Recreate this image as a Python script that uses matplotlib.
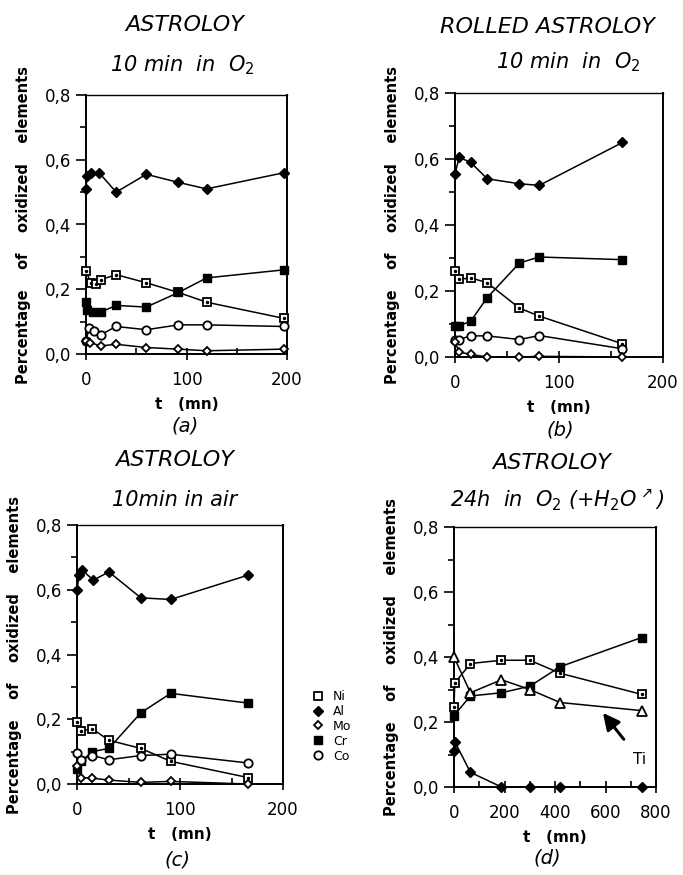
import matplotlib
matplotlib.use("Agg")
import matplotlib.pyplot as plt
from matplotlib.ticker import MultipleLocator, FuncFormatter
from matplotlib.lines import Line2D

plt.rcParams['font.family'] = ['DejaVu Sans']
plt.rcParams['mathtext.fontset'] = 'dejavusans'

W, H = 683, 875

# ---- data ----
# (a) ASTROLOY 10 min in O2
t_a_al = [0, 1, 5, 13, 30, 60, 92, 120, 197]
al_a = [0.51, 0.55, 0.56, 0.56, 0.50, 0.555, 0.53, 0.51, 0.56]
t_a_ni = [0, 5, 10, 15, 30, 60, 92, 120, 197]
ni_a = [0.255, 0.22, 0.215, 0.23, 0.245, 0.22, 0.19, 0.16, 0.11]
t_a_cr = [0, 1, 7, 15, 30, 60, 92, 120, 197]
cr_a = [0.16, 0.135, 0.13, 0.13, 0.15, 0.145, 0.19, 0.235, 0.26]
t_a_co = [0, 3, 8, 15, 30, 60, 92, 120, 197]
co_a = [0.04, 0.08, 0.07, 0.06, 0.085, 0.075, 0.09, 0.09, 0.085]
t_a_mo = [0, 4, 15, 30, 60, 92, 120, 197]
mo_a = [0.04, 0.035, 0.025, 0.03, 0.02, 0.015, 0.01, 0.015]

# (b) ROLLED ASTROLOY 10 min in O2
t_b = [0, 4, 15, 31, 62, 81, 161]
al_b = [0.555, 0.605, 0.59, 0.54, 0.525, 0.52, 0.65]
ni_b = [0.26, 0.235, 0.24, 0.225, 0.148, 0.124, 0.04]
cr_b = [0.095, 0.095, 0.108, 0.18, 0.285, 0.303, 0.295]
co_b = [0.05, 0.053, 0.064, 0.064, 0.053, 0.065, 0.025]
mo_b = [0.045, 0.015, 0.008, 0.0, 0.0, 0.002, 0.0]

# (c) ASTROLOY 10min in air
t_c_al = [0, 2, 5, 16, 31, 62, 91, 166]
al_c = [0.60, 0.645, 0.66, 0.63, 0.655, 0.575, 0.57, 0.645]
t_c = [0, 4, 15, 31, 62, 91, 166]
ni_c = [0.19, 0.165, 0.17, 0.135, 0.11, 0.07, 0.02]
cr_c = [0.045, 0.07, 0.10, 0.11, 0.22, 0.28, 0.25]
co_c = [0.095, 0.075, 0.088, 0.075, 0.088, 0.092, 0.065]
mo_c = [0.055, 0.02, 0.018, 0.012, 0.005, 0.008, 0.0]

# (d) ASTROLOY 24h in O2 (+H2O)
t_d_ni = [0, 3, 65, 188, 300, 420, 743]
ni_d = [0.245, 0.32, 0.38, 0.39, 0.39, 0.35, 0.285]
t_d = [0, 65, 188, 300, 420, 743]
cr_d = [0.22, 0.28, 0.29, 0.31, 0.37, 0.46]
ti_d = [0.40, 0.29, 0.33, 0.30, 0.26, 0.235]
t_d_al = [0, 3, 65, 188, 300, 420, 743]
al_d = [0.11, 0.14, 0.045, 0.0, 0.0, 0.0, 0.0]

legend_names = ['Ni', 'Al', 'Mo', 'Cr', 'Co']

fig = plt.figure(figsize=(W / 100, H / 100), dpi=100)


def px_axes(left, right, top, bottom):
    return fig.add_axes([left / W, 1 - bottom / H, (right - left) / W, (bottom - top) / H])


def style(ax, xmax, xmaj, xmin):
    ax.set_xlim(0, xmax)
    ax.set_ylim(0, 0.8)
    ax.xaxis.set_major_locator(MultipleLocator(xmaj))
    ax.xaxis.set_minor_locator(MultipleLocator(xmin))
    ax.yaxis.set_major_locator(MultipleLocator(0.2))
    ax.yaxis.set_minor_locator(MultipleLocator(0.1))
    ax.yaxis.set_major_formatter(FuncFormatter(lambda v, p: f"{v:.1f}".replace('.', ',')))
    ax.tick_params(axis='y', which='major', direction='out', length=7, width=1.2, labelsize=12)
    ax.tick_params(axis='y', which='minor', direction='out', length=4, width=1.2)
    ax.tick_params(axis='x', which='major', direction='inout', length=8, width=1.2, labelsize=12, pad=8)
    ax.tick_params(axis='x', which='minor', direction='in', length=4, width=1.2)
    for s in ax.spines.values():
        s.set_linewidth(1.4)
    ax.spines['top'].set_linewidth(1.0)
    ax.set_xlabel("t   (mn)", fontsize=11, fontweight='bold', labelpad=6)
    ax.set_ylabel("Percentage    of    oxidized    elements", fontsize=10.5, fontweight='bold', labelpad=10)


kw = dict(color='black', lw=1.1, clip_on=False)


def ni(ax, t, v):
    ax.plot(t, v, marker='s', ms=6, mfc='white', mec='black', mew=1.3, zorder=4, **kw)
    ax.plot(t, v, ls='none', marker='.', ms=3, color='black', zorder=5, clip_on=False)


def al(ax, t, v):
    ax.plot(t, v, marker='D', ms=5.5, mfc='black', mec='black', zorder=4, **kw)


def mo(ax, t, v):
    ax.plot(t, v, marker='D', ms=4.5, mfc='white', mec='black', mew=1.3, zorder=4, **kw)


def cr(ax, t, v):
    ax.plot(t, v, marker='s', ms=6, mfc='black', mec='black', zorder=4, **kw)


def co(ax, t, v):
    ax.plot(t, v, marker='o', ms=6, mfc='white', mec='black', mew=1.3, zorder=4, **kw)


# (a)
ax_a = px_axes(86, 287, 95, 354)
style(ax_a, 200, 100, 50)
al(ax_a, t_a_al, al_a)
ni(ax_a, t_a_ni, ni_a)
cr(ax_a, t_a_cr, cr_a)
co(ax_a, t_a_co, co_a)
mo(ax_a, t_a_mo, mo_a)

# (b)
ax_b = px_axes(455, 663, 93, 357)
style(ax_b, 200, 100, 50)
al(ax_b, t_b, al_b)
ni(ax_b, t_b, ni_b)
cr(ax_b, t_b, cr_b)
co(ax_b, t_b, co_b)
mo(ax_b, t_b, mo_b)

# (c)
ax_c = px_axes(77, 283, 525, 784)
style(ax_c, 200, 100, 50)
al(ax_c, t_c_al, al_c)
ni(ax_c, t_c, ni_c)
cr(ax_c, t_c, cr_c)
co(ax_c, t_c, co_c)
mo(ax_c, t_c, mo_c)

# (d)
ax_d = px_axes(454, 656, 527, 787)
style(ax_d, 800, 200, 100)
ni(ax_d, t_d_ni, ni_d)
cr(ax_d, t_d, cr_d)
ax_d.plot(t_d, ti_d, marker='^', ms=6.5, mfc='white', mec='black', mew=1.3, zorder=4, **kw)
al(ax_d, t_d_al, al_d)
ax_d.annotate("Ti", xy=(590, 0.228), xytext=(735, 0.085), fontsize=11, ha='center', va='center',
              arrowprops=dict(arrowstyle='-|>,head_length=0.9,head_width=0.45', lw=2.2,
                              color='black', shrinkA=9, shrinkB=0))

# titles
tkw = dict(ha='center', va='center', style='italic')
fig.text(185 / W, 1 - 25 / H, "ASTROLOY", fontsize=16, **tkw)
fig.text(182 / W, 1 - 65 / H, r"10 min  in  $\mathit{O_2}$", fontsize=15, **tkw)
fig.text(547 / W, 1 - 27 / H, "ROLLED ASTROLOY", fontsize=16, **tkw)
fig.text(568 / W, 1 - 62 / H, r"10 min  in  $\mathit{O_2}$", fontsize=15, **tkw)
fig.text(175 / W, 1 - 460 / H, "ASTROLOY", fontsize=16, **tkw)
fig.text(175 / W, 1 - 500 / H, "10min in air", fontsize=15, **tkw)
fig.text(552 / W, 1 - 463 / H, "ASTROLOY", fontsize=16, **tkw)
fig.text(557 / W, 1 - 500 / H, r"24h  in  $\mathit{O_2}$ (+$\mathit{H_2O}^{\nearrow}$)", fontsize=15, **tkw)

# panel letters
for x, y, s in [(185, 426, "(a)"), (560, 430, "(b)"), (178, 860, "(c)"), (547, 858, "(d)")]:
    fig.text(x / W, 1 - y / H, s, fontsize=14, **tkw)

# legend
handles = [
    Line2D([], [], ls='none', marker='s', ms=6, mfc='white', mec='black', mew=1.3),
    Line2D([], [], ls='none', marker='D', ms=5.5, mfc='black', mec='black'),
    Line2D([], [], ls='none', marker='D', ms=4.5, mfc='white', mec='black', mew=1.3),
    Line2D([], [], ls='none', marker='s', ms=6, mfc='black', mec='black'),
    Line2D([], [], ls='none', marker='o', ms=6, mfc='white', mec='black', mew=1.3),
]
fig.legend(handles, legend_names, loc='upper left', bbox_to_anchor=(313 / W, 1 - 690 / H),
           frameon=False, fontsize=9, handlelength=0.8, handletextpad=0.8,
           labelspacing=0.15, borderpad=0, borderaxespad=0)

fig.savefig("out.png", dpi=100)
